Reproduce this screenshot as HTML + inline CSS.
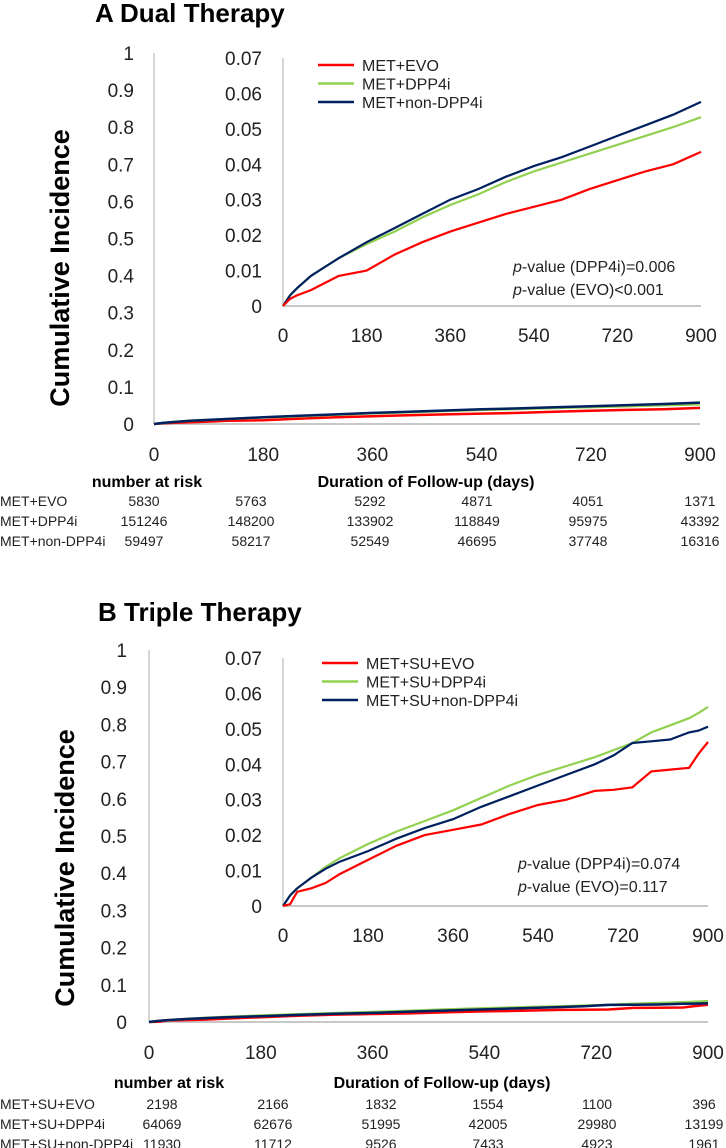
<!DOCTYPE html>
<html><head><meta charset="utf-8"><style>
html,body{margin:0;padding:0;background:#fff;}
svg{display:block;font-family:"Liberation Sans",sans-serif;}
</style></head><body>
<svg id="fig" width="726" height="1148" viewBox="0 0 726 1148" xmlns="http://www.w3.org/2000/svg"></svg>
<script>
// ---- Data ----
const xTicks = [0,180,360,540,720,900];
const outerYTicks = [0,0.1,0.2,0.3,0.4,0.5,0.6,0.7,0.8,0.9,1];
const outerYLabels = ["0","0.1","0.2","0.3","0.4","0.5","0.6","0.7","0.8","0.9","1"];
const innerYTicks = [0,0.01,0.02,0.03,0.04,0.05,0.06,0.07];
const innerYLabels = ["0","0.01","0.02","0.03","0.04","0.05","0.06","0.07"];

const daysA = [0,15,30,60,90,120,180,240,300,360,420,480,540,600,660,720,780,840,900];
const dualEvo = [0,0.002,0.003,0.0045,0.0065,0.0085,0.010,0.0145,0.018,0.021,0.0235,0.026,0.028,0.030,0.033,0.0355,0.038,0.040,0.0435];
const dualDpp4 = [0,0.003,0.005,0.0085,0.011,0.0135,0.0175,0.021,0.025,0.0285,0.0315,0.035,0.038,0.0405,0.043,0.0455,0.048,0.0505,0.0533];
const dualNonDpp4 = [0,0.003,0.005,0.0085,0.011,0.0135,0.018,0.022,0.026,0.030,0.033,0.0365,0.0395,0.042,0.045,0.048,0.051,0.054,0.0576];

const daysB = [0,15,30,60,90,120,180,240,300,360,420,480,540,600,660,700,740,780,820,860,880,900];
const tripleEvo = [0,0.0005,0.004,0.005,0.0065,0.009,0.013,0.017,0.020,0.0215,0.023,0.026,0.0285,0.030,0.0325,0.0328,0.0335,0.038,0.0385,0.039,0.043,0.0463];
const tripleDpp4 = [0,0.003,0.005,0.008,0.011,0.0135,0.0175,0.021,0.024,0.027,0.0305,0.034,0.037,0.0395,0.042,0.044,0.046,0.049,0.051,0.053,0.0545,0.0562];
const tripleNonDpp4 = [0,0.003,0.005,0.008,0.0105,0.0125,0.0155,0.019,0.022,0.0245,0.028,0.031,0.034,0.037,0.040,0.0425,0.046,0.0465,0.047,0.049,0.0495,0.0506];

const dualNames = ["MET+EVO","MET+DPP4i","MET+non-DPP4i"];
const dualRisk = [[5830,5763,5292,4871,4051,1371],[151246,148200,133902,118849,95975,43392],[59497,58217,52549,46695,37748,16316]];
const tripleNames = ["MET+SU+EVO","MET+SU+DPP4i","MET+SU+non-DPP4i"];
const tripleRisk = [[2198,2166,1832,1554,1100,396],[64069,62676,51995,42005,29980,13199],[11930,11712,9526,7433,4923,1961]];

const colors = ["#ff0000","#92d050","#002060"];
const NS = "http://www.w3.org/2000/svg";
const svg = document.getElementById("fig");

function el(tag, attrs, parent, text){
  const e = document.createElementNS(NS, tag);
  for (const k in attrs) e.setAttribute(k, attrs[k]);
  if (text !== undefined) e.textContent = text;
  (parent || svg).appendChild(e);
  return e;
}

function panel(p){
  const g = el("g", {});
  
  
  const t = el("text", {x:p.titleX, y:p.titleY, "font-size":26, "font-weight":"bold"}, g, p.title);
  
  

  const ox = d => p.ox0 + (d/900)*(p.ox1-p.ox0);
  const oy = v => p.oy0 - v*(p.oy0-p.oy1);
  const oya = el("line", {x1:p.ox0, y1:p.oy1, x2:p.ox0, y2:p.oy0, stroke:"#c8c8c8", "stroke-width":1.5}, g);
  
  
  const oxa = el("line", {x1:p.ox0, y1:p.oy0, x2:p.ox1, y2:p.oy0, stroke:"#c8c8c8", "stroke-width":2}, g);
  
  
  outerYTicks.forEach((v,i)=>{
    const tt = el("text", {x:p.oyLabelX, y:oy(v)+7, "font-size":19, "text-anchor":"end", fill:"#222"}, g, outerYLabels[i]);
    
    
  });
  xTicks.forEach(d=>{
    const tt = el("text", {x:ox(d), y:p.oxLabelY+7, "font-size":19, "text-anchor":"middle", fill:"#222"}, g, String(d));
    
    
  });
  const yt = el("text", {x:0, y:0, "font-size":27, "font-weight":"bold", "text-anchor":"middle", transform:`translate(${p.ytX},${p.ytY}) rotate(-90)`}, g, "Cumulative Incidence");
  
  

  const ix = d => p.ix0 + (d/900)*(p.ix1-p.ix0);
  const iy = v => p.iy0 - (v/0.07)*(p.iy0-p.iy1);
  const iya = el("line", {x1:p.ix0, y1:p.iy1, x2:p.ix0, y2:p.iy0, stroke:"#c8c8c8", "stroke-width":1.5}, g);
  
  
  const ixa = el("line", {x1:p.ix0, y1:p.iy0, x2:p.ix1, y2:p.iy0, stroke:"#c8c8c8", "stroke-width":2}, g);
  
  
  innerYTicks.forEach((v,i)=>{
    const tt = el("text", {x:262, y:iy(v)+7, "font-size":19, "text-anchor":"end", fill:"#222"}, g, innerYLabels[i]);
    
    
  });
  xTicks.forEach(d=>{
    const tt = el("text", {x:ix(d), y:p.ixLabelY+7, "font-size":19, "text-anchor":"middle", fill:"#222"}, g, String(d));
    
    
  });

  p.series.forEach((s,si)=>{
    const ptsO = p.days.map((d,i)=>ox(d).toFixed(1)+","+oy(s[i]).toFixed(1)).join(" ");
    const lo = el("polyline", {points:ptsO, fill:"none", stroke:colors[si], "stroke-width":2.5}, g);
    
    
  });
  [1,2,0].forEach(si=>{
    const s = p.series[si];
    const ptsI = p.days.map((d,i)=>ix(d).toFixed(1)+","+iy(s[i]).toFixed(1)).join(" ");
    const li = el("polyline", {points:ptsI, fill:"none", stroke:colors[si], "stroke-width":2.2}, g);
    
    
  });

  p.names.forEach((n,i)=>{
    const y = p.legY + i*18.5;
    const ll = el("line", {x1:p.legX, y1:y, x2:p.legX+36, y2:y, stroke:colors[i], "stroke-width":2.5}, g);
    
    
    const lt = el("text", {x:p.legX+44, y:y+6, "font-size":16, fill:"#222"}, g, n);
    
    
  });

  p.pvals.forEach((pv,i)=>{
    const tx = el("text", {x:p.pX, y:p.pY + i*23 + 6, "font-size":16, fill:"#222"}, g);
    
    
    el("tspan", {"font-style":"italic"}, tx, "p");
    el("tspan", {}, tx, pv);
  });

  const nr = el("text", {x:p.nrX, y:p.nrY+6, "font-size":16, "font-weight":"bold", "text-anchor":"middle"}, g, "number at risk");
  
  
  const du = el("text", {x:p.duX, y:p.nrY+6, "font-size":16, "font-weight":"bold", "text-anchor":"middle"}, g, "Duration of Follow-up (days)");
  
  
  p.names.forEach((n,r)=>{
    const y = p.rowY + r*20;
    const rl = el("text", {x:0, y:y+5, "font-size":14, fill:"#222"}, g, n);
    
    
    p.risk[r].forEach((v,c)=>{
      const rv = el("text", {x:p.riskX[c], y:y+5, "font-size":14, "text-anchor":"middle", fill:"#222"}, g, String(v));
      
      
    });
  });
}

panel({id:"dual", title:"A  Dual Therapy", titleX:95, titleY:22,
  ox0:154, ox1:700, oy0:424, oy1:53, oyLabelX:134, oxLabelY:454, ytX:69, ytY:268,
  ix0:283, ix1:701, iy0:306, iy1:58, ixLabelY:335,
  days:daysA, series:[dualEvo,dualDpp4,dualNonDpp4], names:dualNames,
  legX:318, legY:65, pX:513, pY:266, pvals:["-value (DPP4i)=0.006","-value (EVO)<0.001"],
  nrX:147, nrY:481, duX:426, rowY:501, risk:dualRisk, riskX:[144,251,370,477,588,700]});

panel({id:"triple", title:"B  Triple Therapy", titleX:98, titleY:621,
  ox0:149, ox1:708, oy0:1022, oy1:650, oyLabelX:127, oxLabelY:1052, ytX:74, ytY:868,
  ix0:283, ix1:708, iy0:906, iy1:658, ixLabelY:935,
  days:daysB, series:[tripleEvo,tripleDpp4,tripleNonDpp4], names:tripleNames,
  legX:322, legY:663, pX:518, pY:863, pvals:["-value (DPP4i)=0.074","-value (EVO)=0.117"],
  nrX:169, nrY:1082, duX:442, rowY:1104, risk:tripleRisk, riskX:[162,273,381,488,597,704]});
</script>
</body></html>
